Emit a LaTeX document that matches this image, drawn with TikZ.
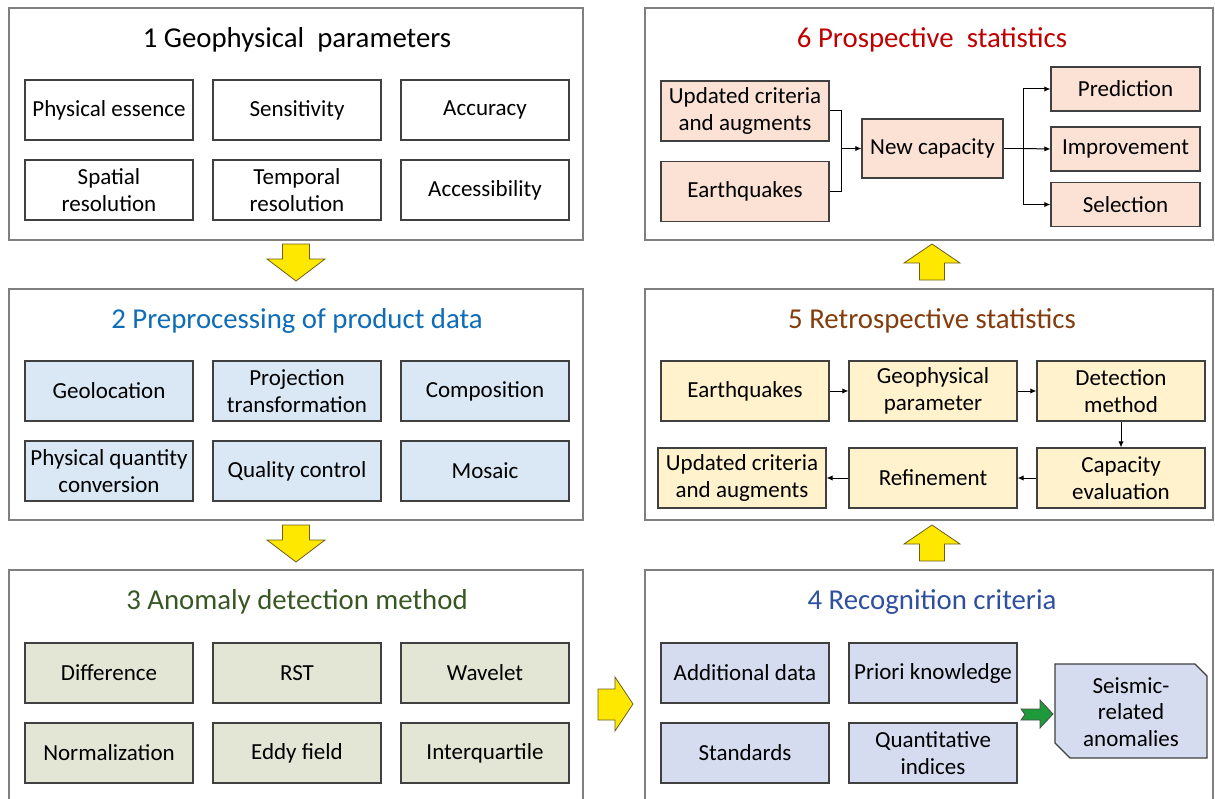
\documentclass[tikz,border=0pt]{standalone}
\usepackage{fontspec}
\setmainfont{Carlito}
\usetikzlibrary{arrows.meta}
\definecolor{bluebox}{HTML}{DAE7F5}
\definecolor{greenbox}{HTML}{E3E6D5}
\definecolor{lavbox}{HTML}{D6DCF0}
\definecolor{yelbox}{HTML}{FFF2CC}
\definecolor{pinkbox}{HTML}{FBE2D5}
\definecolor{boxline}{HTML}{404040}
\definecolor{panelline}{HTML}{7F7F7F}
\definecolor{ttwo}{HTML}{0F6CB6}
\definecolor{tthree}{HTML}{385723}
\definecolor{tfour}{HTML}{2F4F9F}
\definecolor{tfive}{HTML}{843C0C}
\definecolor{tsix}{HTML}{C00000}
\definecolor{bigyellow}{HTML}{FFE800}
\definecolor{bigyellowline}{HTML}{6B5E1E}
\definecolor{biggreen}{HTML}{1F9A3A}
\tikzset{
  panel/.style={draw=panelline, line width=1pt, fill=white},
  cell/.style={draw=boxline, line width=0.9pt, minimum width=126pt, minimum height=45pt,
    inner sep=0pt, align=center, font=\fontsize{17.25}{20.25}\selectfont},
  ptitle/.style={inner sep=0pt, font=\fontsize{21.6}{26}\selectfont},
  conn/.style={draw=black, line width=0.75pt},
  connarr/.style={conn, -{Latex[length=4.5pt, width=4pt]}},
  yarrow/.style={fill=bigyellow, draw=bigyellowline, line width=0.6pt, line join=miter},
  garrow/.style={fill=biggreen, draw=black!70, line width=0.6pt},
}
\begin{document}
\begin{tikzpicture}[x=0.75pt, y=-0.75pt]
\useasboundingbox (0,0) rectangle (1215,799);
\clip (0,0) rectangle (1215,799);
\fill[white] (0,0) rectangle (1215,799);

% ---------- panels ----------
\draw[panel] (9,8) rectangle (583,240);
\draw[panel] (9,289) rectangle (583,520);
\draw[panel] (9,570) rectangle (583,810);
\draw[panel] (645,8) rectangle (1213,240);
\draw[panel] (645,289) rectangle (1213,520);
\draw[panel] (645,570) rectangle (1213,810);

% ---------- titles ----------
\node[ptitle] (t1) at (297,40) {1 Geophysical\ \ parameters};
\node[ptitle, text=ttwo] (t2) at (297,321) {2 Preprocessing of product data};
\node[ptitle, text=tthree] (t3) at (297,602) {3 Anomaly detection method};
\node[ptitle, text=tsix] (t6) at (932,40) {6 Prospective\ \ statistics};
\node[ptitle, text=tfive] (t5) at (932,321) {5 Retrospective statistics};
\node[ptitle, text=tfour] (t4) at (932,602) {4 Recognition criteria};

% ---------- panel 1 ----------
\node[cell, fill=white] (p1a) at (109,110) {Physical essence};
\node[cell, fill=white] (p1b) at (297,110) {Sensitivity};
\node[cell, fill=white] (p1c) at (485,110) {Accuracy};
\node[cell, fill=white] (p1d) at (109,190) {Spatial\\resolution};
\node[cell, fill=white] (p1e) at (297,190) {Temporal\\resolution};
\node[cell, fill=white] (p1f) at (485,190) {Accessibility};

% ---------- panel 2 ----------
\node[cell, fill=bluebox] (p2a) at (109,391) {Geolocation};
\node[cell, fill=bluebox] (p2b) at (297,391) {Projection\\transformation};
\node[cell, fill=bluebox] (p2c) at (485,391) {Composition};
\node[cell, fill=bluebox] (p2d) at (109,471) {Physical quantity\\conversion};
\node[cell, fill=bluebox] (p2e) at (297,471) {Quality control};
\node[cell, fill=bluebox] (p2f) at (485,471) {Mosaic};

% ---------- panel 3 ----------
\node[cell, fill=greenbox] (p3a) at (109,673) {Difference};
\node[cell, fill=greenbox] (p3b) at (297,673) {RST};
\node[cell, fill=greenbox] (p3c) at (485,673) {Wavelet};
\node[cell, fill=greenbox] (p3d) at (109,753) {Normalization};
\node[cell, fill=greenbox] (p3e) at (297,753) {Eddy field};
\node[cell, fill=greenbox] (p3f) at (485,753) {Interquartile};

% ---------- panel 4 ----------
\node[cell, fill=lavbox] (p4a) at (745,673) {Additional data};
\node[cell, fill=lavbox] (p4b) at (933,673) {Priori knowledge};
\node[cell, fill=lavbox] (p4c) at (745,753) {Standards};
\node[cell, fill=lavbox] (p4d) at (933,753) {Quantitative\\indices};
\draw[draw=boxline, line width=0.9pt, fill=lavbox]
  (1055,664) -- (1195,664) -- (1207,676) -- (1207,758) -- (1070,758) -- (1055,743) -- cycle;
\node[align=center, inner sep=0pt, font=\fontsize{17.25}{20}\selectfont] (seis) at (1131,712) {Seismic-\\related\\anomalies};
\draw[garrow] (1021,709) -- (1040,709) -- (1040,700) -- (1053,714) -- (1040,728) -- (1040,720)
  -- (1021,720) -- (1025,714.5) -- cycle;

% ---------- panel 5 ----------
\node[cell, fill=yelbox] (p5a) at (745,391) {Earthquakes};
\node[cell, fill=yelbox] (p5b) at (933,391) {Geophysical\\parameter};
\node[cell, fill=yelbox] (p5c) at (1121,391) {Detection\\method};
\node[cell, fill=yelbox] (p5d) at (1121,478) {Capacity\\evaluation};
\node[cell, fill=yelbox] (p5e) at (933,478) {Refinement};
\node[cell, fill=yelbox] (p5f) at (742,478) {Updated criteria\\and augments};
\draw[connarr] (p5a) -- (p5b);
\draw[connarr] (p5b) -- (p5c);
\draw[connarr] (p5c) -- (p5d);
\draw[connarr] (p5d) -- (p5e);
\draw[connarr] (p5e) -- (p5f);

% ---------- panel 6 ----------
\node[cell, fill=pinkbox] (p6a) at (745,111) {Updated criteria\\and augments};
\node[cell, fill=pinkbox] (p6b) at (745,191.5) {Earthquakes};
\node[cell, fill=pinkbox, minimum width=105.75pt, minimum height=44.25pt] (p6c) at (932.5,148.5) {New capacity};
\node[cell, fill=pinkbox, minimum width=111.75pt, minimum height=33pt] (p6d) at (1125.5,89) {Prediction};
\node[cell, fill=pinkbox, minimum width=111.75pt, minimum height=33pt] (p6e) at (1125.5,149) {Improvement};
\node[cell, fill=pinkbox, minimum width=111.75pt, minimum height=33pt] (p6f) at (1125.5,204.5) {Selection};
\coordinate (j1) at (841,148.5);
\coordinate (j2) at (1023,148.5);
\draw[conn] (p6a.east) -| (j1);
\draw[conn] (p6b.east) -| (j1);
\draw[connarr] (j1) -- (p6c.west);
\draw[conn] (p6c.east) -- (j2);
\draw[connarr] (j2) |- (p6d.west);
\draw[connarr] (j2) -- (p6e.west);
\draw[connarr] (j2) |- (p6f.west);

% ---------- big yellow arrows ----------
\draw[yarrow] (282.5,244) -- (309.5,244) -- (309.5,259) -- (325,259) -- (296,281) -- (267,259) -- (282.5,259) -- cycle;
\draw[yarrow] (282.5,525) -- (309.5,525) -- (309.5,540) -- (325,540) -- (296,562) -- (267,540) -- (282.5,540) -- cycle;
\draw[yarrow] (919.5,280) -- (944.5,280) -- (944.5,263) -- (960,263) -- (932,244) -- (904,263) -- (919.5,263) -- cycle;
\draw[yarrow] (919.5,561) -- (944.5,561) -- (944.5,544) -- (960,544) -- (932,525) -- (904,544) -- (919.5,544) -- cycle;
\draw[yarrow] (598,689) -- (615,689) -- (615,677) -- (633,704) -- (615,731) -- (615,720) -- (598,720) -- cycle;
\end{tikzpicture}
\end{document}
